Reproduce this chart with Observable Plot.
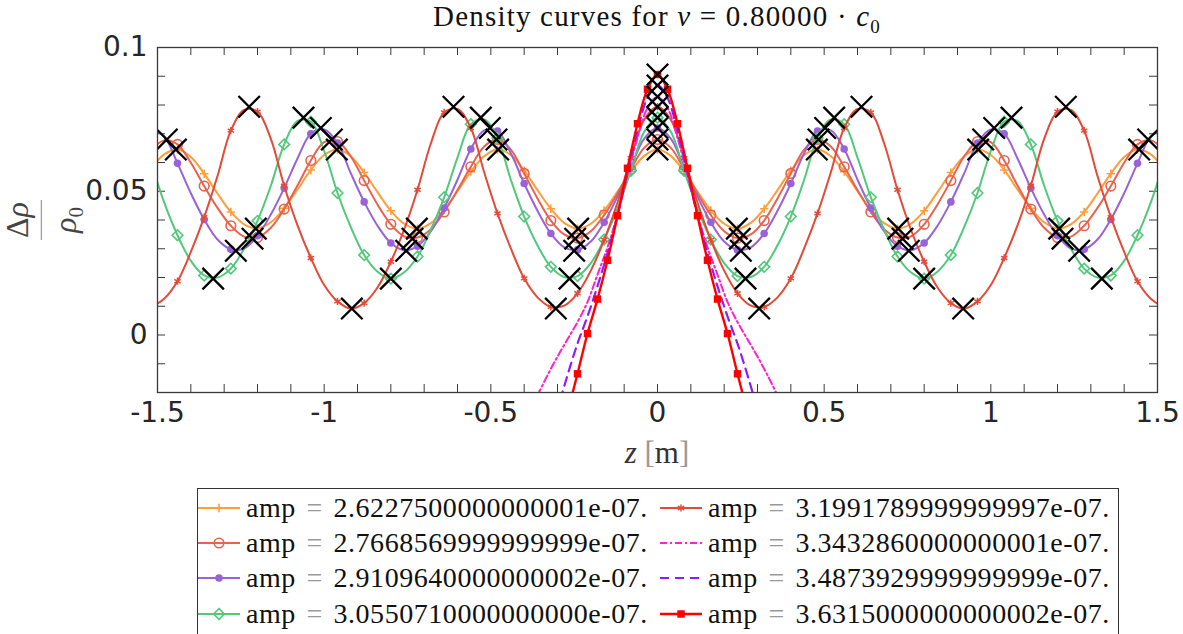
<!DOCTYPE html>
<html>
<head>
<meta charset="utf-8">
<script src="https://cdn.jsdelivr.net/npm/d3@7"></script>
<script src="https://cdn.jsdelivr.net/npm/@observablehq/plot@0.6"></script>
<style>
html,body{margin:0;padding:0;background:#fff;}
#wrap{position:relative;width:1183px;height:634px;overflow:hidden;background:#fff;}
#chart{position:absolute;left:0;top:0;}
.serif{font-family:"Liberation Serif","Times New Roman",serif;color:#111;}
#title{position:absolute;left:257px;width:800px;top:2px;text-align:center;font-size:29px;line-height:29px;letter-spacing:1.2px;white-space:nowrap;}
#title sub{font-size:19px;}
#xlabel{position:absolute;left:557px;width:200px;top:437px;text-align:center;font-size:31px;line-height:31px;color:#333;white-space:nowrap;}
#ylabel{position:absolute;left:47px;top:220px;transform:translate(-50%,-50%) rotate(-90deg);display:flex;flex-direction:column;align-items:center;font-size:32px;line-height:31px;color:#444;padding:0 2px;}
#ylabel .bar{width:40px;height:0;border-top:1.8px solid #888;margin:8px 0;}
#ylabel sub{font-size:21px;}
#legend{position:absolute;left:197px;top:488px;width:920px;height:146px;border:1px solid #333;background:#fff;}
.item{position:absolute;height:30px;display:flex;align-items:center;font-size:28px;letter-spacing:0.55px;white-space:nowrap;}
.item svg{margin-right:6px;flex:none;}
.eq{color:#9a9a9a;margin:0 0.38em;}
.grey{color:#999;}
</style>
</head>
<body>
<div id="wrap">
  <div id="chart"></div>
  <div id="title" class="serif">Density curves for <i>v</i> = 0.80000 · <i>c</i><sub>0</sub></div>
  <div id="xlabel" class="serif"><i>z</i> <span class="grey">[</span>m<span class="grey">]</span></div>
  <div id="ylabel" class="serif"><div>Δ<i>ρ</i></div><div class="bar"></div><div><i>ρ</i><sub>0</sub></div></div>
  <div id="legend" class="serif"></div>
</div>
<script>
// ---------------- data ----------------
const zGrid = [-1.52,-1.48,-1.44,-1.40,-1.36,-1.32,-1.28,-1.24,-1.20,-1.16,-1.12,-1.08,-1.04,-1.00,-0.96,-0.92,-0.88,-0.84,-0.80,-0.76,-0.72,-0.68,-0.64,-0.60,-0.56,-0.52,-0.48,-0.44,-0.40,-0.36,-0.32,-0.28,-0.24,-0.20,-0.16,-0.12,-0.08,-0.04,0,
 0.04,0.08,0.12,0.16,0.20,0.24,0.28,0.32,0.36,0.40,0.44,0.48,0.52,0.56,0.60,0.64,0.68,0.72,0.76,0.80,0.84,0.88,0.92,0.96,1.00,1.04,1.08,1.12,1.16,1.20,1.24,1.28,1.32,1.36,1.40,1.44,1.48,1.52];

const orangeV = [.0577,.0628,.0645,.0619,.0561,.0492,.0428,.0385,.0371,.0392,.0441,.0506,.0574,.0626,.0645,.0622,.0565,.0497,.0432,.0387,.0370,.0389,.0436,.0500,.0568,.0622,.0645,.0626,.0572,.0504,.0439,.0390,.0370,.0387,.0433,.0499,.0568,.0623,
 .0645,
 .0623,.0568,.0499,.0433,.0387,.0370,.0390,.0439,.0504,.0572,.0626,.0645,.0622,.0568,.0500,.0436,.0389,.0370,.0387,.0432,.0497,.0565,.0622,.0645,.0626,.0574,.0506,.0441,.0392,.0371,.0385,.0428,.0492,.0561,.0619,.0645,.0628,.0577];

const salmonV = [.0642,.0677,.0663,.0599,.0518,.0442,.0380,.0342,.0339,.0373,.0438,.0520,.0607,.0671,.0673,.0621,.0537,.0454,.0385,.0343,.0339,.0368,.0428,.0504,.0585,.0656,.0680,.0645,.0562,.0475,.0398,.0350,.0337,.0361,.0417,.0492,.0576,.0651,
 .0680,
 .0651,.0576,.0492,.0417,.0361,.0337,.0350,.0398,.0475,.0562,.0645,.0680,.0656,.0585,.0504,.0428,.0368,.0339,.0343,.0385,.0454,.0537,.0621,.0673,.0671,.0607,.0520,.0438,.0373,.0339,.0342,.0380,.0442,.0518,.0599,.0663,.0677,.0642];

const purpleV = [.0717,.0691,.0597,.0493,.0402,.0332,.0298,.0301,.0345,.0419,.0511,.0614,.0700,.0715,.0668,.0562,.0463,.0380,.0320,.0295,.0309,.0360,.0442,.0540,.0647,.0712,.0709,.0632,.0527,.0432,.0353,.0305,.0296,.0325,.0392,.0481,.0583,.0683,
 .0720,
 .0683,.0583,.0481,.0392,.0325,.0296,.0305,.0353,.0432,.0527,.0632,.0709,.0712,.0647,.0540,.0442,.0360,.0309,.0295,.0320,.0380,.0463,.0562,.0668,.0715,.0700,.0614,.0511,.0419,.0345,.0301,.0298,.0332,.0402,.0493,.0597,.0691,.0717];

const greenV = [.0603,.0461,.0347,.0258,.0207,.0200,.0231,.0301,.0397,.0519,.0663,.0745,.0742,.0640,.0494,.0375,.0278,.0220,.0196,.0218,.0273,.0366,.0479,.0617,.0733,.0750,.0685,.0540,.0412,.0312,.0237,.0202,.0205,.0250,.0332,.0440,.0571,.0707,
 .0756,
 .0707,.0571,.0440,.0332,.0250,.0205,.0202,.0237,.0312,.0412,.0540,.0685,.0750,.0733,.0617,.0479,.0366,.0273,.0218,.0196,.0220,.0278,.0375,.0494,.0640,.0742,.0745,.0663,.0519,.0397,.0301,.0231,.0200,.0207,.0258,.0347,.0461,.0603];

const redxV = [.0096,.0126,.0187,.0289,.0410,.0553,.0711,.0783,.0777,.0682,.0519,.0381,.0268,.0174,.0117,.0092,.0111,.0165,.0255,.0367,.0505,.0666,.0774,.0786,.0720,.0566,.0423,.0301,.0197,.0131,.0098,.0102,.0145,.0224,.0331,.0461,.0615,.0749,
 .0794,
 .0749,.0615,.0461,.0331,.0224,.0145,.0102,.0098,.0131,.0197,.0301,.0423,.0566,.0720,.0786,.0774,.0666,.0505,.0367,.0255,.0165,.0111,.0092,.0117,.0174,.0268,.0381,.0519,.0682,.0777,.0783,.0711,.0553,.0410,.0289,.0187,.0126,.0096];

const zCenter = [-0.36,-0.33,-0.30,-0.27,-0.24,-0.21,-0.18,-0.15,-0.12,-0.09,-0.06,-0.03,0,0.03,0.06,0.09,0.12,0.15,0.18,0.21,0.24,0.27,0.30,0.33,0.36];
const magentaV = [-.0210,-.0140,-.0075,-.0015,.0045,.0115,.0210,.0305,.0420,.0555,.0685,.0790,.0829,.0790,.0685,.0555,.0420,.0305,.0210,.0115,.0045,-.0015,-.0075,-.0140,-.0210];
const violetV  = [-.0530,-.0390,-.0260,-.0140,-.0030,.0065,.0170,.0285,.0415,.0565,.0710,.0825,.0868,.0825,.0710,.0565,.0415,.0285,.0170,.0065,-.0030,-.0140,-.0260,-.0390,-.0530];
const redsqV   = [-.0710,-.0560,-.0410,-.0270,-.0135,.0005,.0125,.0260,.0415,.0580,.0735,.0855,.0906,.0855,.0735,.0580,.0415,.0260,.0125,.0005,-.0135,-.0270,-.0410,-.0560,-.0710];

const extremaZ = [
 -1.445,-0.962,-0.478,0,0.478,0.962,1.445,  -1.205,-0.722,-0.238,0.238,0.722,1.205,
 -1.472,-0.977,-0.483,0,0.483,0.977,1.472,  -1.215,-0.735,-0.247,0.247,0.735,1.215,
 -1.01,-0.503,0,0.503,1.01,                 -1.265,-0.754,-0.25,0.25,0.754,1.265,
 -1.062,-0.53,0,0.53,1.062,                 -1.333,-0.80,-0.264,0.264,0.80,1.333,
 -1.225,-0.612,0,0.612,1.225,               -0.917,-0.305,0.305,0.917,
 0,0,0];
const extremaV = [
 .0645,.0645,.0645,.0645,.0645,.0645,.0645,  .0370,.0370,.0370,.0370,.0370,.0370,
 .0680,.0680,.0680,.0680,.0680,.0680,.0680,  .0335,.0335,.0335,.0335,.0335,.0335,
 .0720,.0720,.0720,.0720,.0720,              .0293,.0293,.0293,.0293,.0293,.0293,
 .0756,.0756,.0756,.0756,.0756,              .0196,.0196,.0196,.0196,.0196,.0196,
 .0794,.0794,.0794,.0794,.0794,              .0092,.0092,.0092,.0092,
 .0829,.0868,.0906];

const ampLabels = ["2.6227500000000001e-07.","2.7668569999999999e-07.","2.9109640000000002e-07.","3.0550710000000000e-07.",
                   "3.1991789999999997e-07.","3.3432860000000001e-07.","3.4873929999999999e-07.","3.6315000000000002e-07."];
const xTickLabels = [-1.5,-1,-0.5,0,0.5,1,1.5];
const yTickLabels = [0,0.05,0.1];

// ---------------- styles ----------------
const series = [
  {z: zGrid,   v: orangeV,  color:"#FF9D3A", width:2,   dash:null,      symbol:"plus",     r:2.8, fill:"none",    sw:1.6, every:2},
  {z: zGrid,   v: salmonV,  color:"#E8634F", width:2,   dash:null,      symbol:"circle",   r:4.8, fill:"none",    sw:1.6, every:2},
  {z: zGrid,   v: purpleV,  color:"#9A62D8", width:2,   dash:null,      symbol:"circle",   r:3.8, fill:"#9A62D8", sw:0,   every:2},
  {z: zGrid,   v: greenV,   color:"#52C87A", width:2,   dash:null,      symbol:"diamond2", r:4.8, fill:"none",    sw:1.6, every:2},
  {z: zGrid,   v: redxV,    color:"#E34A38", width:2,   dash:null,      symbol:"asterisk", r:3.4, fill:"none",    sw:1.5, every:2},
  {z: zCenter, v: magentaV, color:"#FF22CC", width:2,   dash:"7,3,2,3", symbol:null},
  {z: zCenter, v: violetV,  color:"#8F1CFF", width:2.2, dash:"9,6",     symbol:null},
  {z: zCenter, v: redsqV,   color:"#FF0000", width:2.4, dash:null,      symbol:"square",   r:4.2, fill:"#FF0000", sw:0,   every:1}
];
series.forEach((s,i) => { s.label = ampLabels[i]; s.rows = s.z.map((z,j) => ({z, v: s.v[j], j})); });

const extrema = extremaZ.map((z,i) => ({z, v: extremaV[i]}));
const xMinor = d3.range(-15, 16).map(i => i / 10);
const yMinor = d3.range(-2, 11).map(i => i / 100);

const W = 1183, H = 480, mL = 157, mR = 26, mT = 47, mB = 88;
const innerW = W - mL - mR, innerH = H - mT - mB, tk = 8;
const axisColor = "#3a3a3a";

const marks = [
  Plot.tickX(xMinor, {x: d => d, insetTop: innerH - tk, stroke: axisColor, strokeWidth: 1}),
  Plot.tickX(xMinor, {x: d => d, insetBottom: innerH - tk, stroke: axisColor, strokeWidth: 1}),
  Plot.tickY(yMinor, {y: d => d, insetRight: innerW - tk, stroke: axisColor, strokeWidth: 1}),
  Plot.tickY(yMinor, {y: d => d, insetLeft: innerW - tk, stroke: axisColor, strokeWidth: 1})
];
for (const s of series) {
  marks.push(Plot.line(s.rows, {x: "z", y: "v", stroke: s.color, strokeWidth: s.width, strokeDasharray: s.dash || undefined, curve: "catmull-rom", clip: true}));
  if (s.symbol) {
    marks.push(Plot.dot(s.rows.filter(d => d.j % s.every === 0), {x: "z", y: "v", symbol: s.symbol, r: s.r, stroke: s.sw ? s.color : "none", strokeWidth: s.sw, fill: s.fill, clip: true}));
  }
}
marks.push(Plot.dot(extrema, {x: "z", y: "v", symbol: "times", r: 9.8, stroke: "#000", strokeWidth: 2.3, clip: true}));
marks.push(Plot.frame({stroke: axisColor, strokeWidth: 1.3}));
marks.push(Plot.axisX({ticks: xTickLabels, tickSize: 0, tickPadding: 10, tickFormat: d => String(d), label: null, fontSize: 28}));
marks.push(Plot.axisY({ticks: yTickLabels, tickSize: 0, tickPadding: 10, tickFormat: d => String(d), label: null, fontSize: 28}));

const chart = Plot.plot({
  width: W, height: H,
  marginLeft: mL, marginRight: mR, marginTop: mT, marginBottom: mB,
  x: {domain: [-1.5, 1.5]},
  y: {domain: [-0.02, 0.1]},
  style: {fontFamily: "'DejaVu Sans', sans-serif", fontSize: "28px", color: "#262626", background: "transparent", overflow: "visible"},
  marks
});
document.getElementById("chart").appendChild(chart);

// ---------------- legend ----------------
const symMap = {plus: d3.symbolPlus, circle: d3.symbolCircle, diamond2: d3.symbolDiamond2, asterisk: d3.symbolAsterisk, square: d3.symbolSquare};
const legend = document.getElementById("legend");
const rowCenters = [19, 54, 89, 125];
series.forEach((s, i) => {
  const col = i < 4 ? 0 : 1, row = i % 4;
  const item = document.createElement("div");
  item.className = "item";
  item.style.left = (col === 0 ? 0 : 462) + "px";
  item.style.top = (rowCenters[row] - 15) + "px";
  let svg = `<svg width="42" height="20" viewBox="0 0 42 20"><line x1="0" y1="10" x2="42" y2="10" stroke="${s.color}" stroke-width="${s.width}"${s.dash ? ` stroke-dasharray="${s.dash}"` : ""}/>`;
  if (s.symbol) {
    const p = d3.symbol(symMap[s.symbol], Math.PI * s.r * s.r)();
    svg += `<path transform="translate(21,10)" d="${p}" fill="${s.fill}" stroke="${s.sw ? s.color : "none"}" stroke-width="${s.sw}"/>`;
  }
  svg += `</svg>`;
  item.innerHTML = svg + `<span>amp<span class="eq">=</span>${s.label}</span>`;
  legend.appendChild(item);
});
</script>
</body>
</html>
